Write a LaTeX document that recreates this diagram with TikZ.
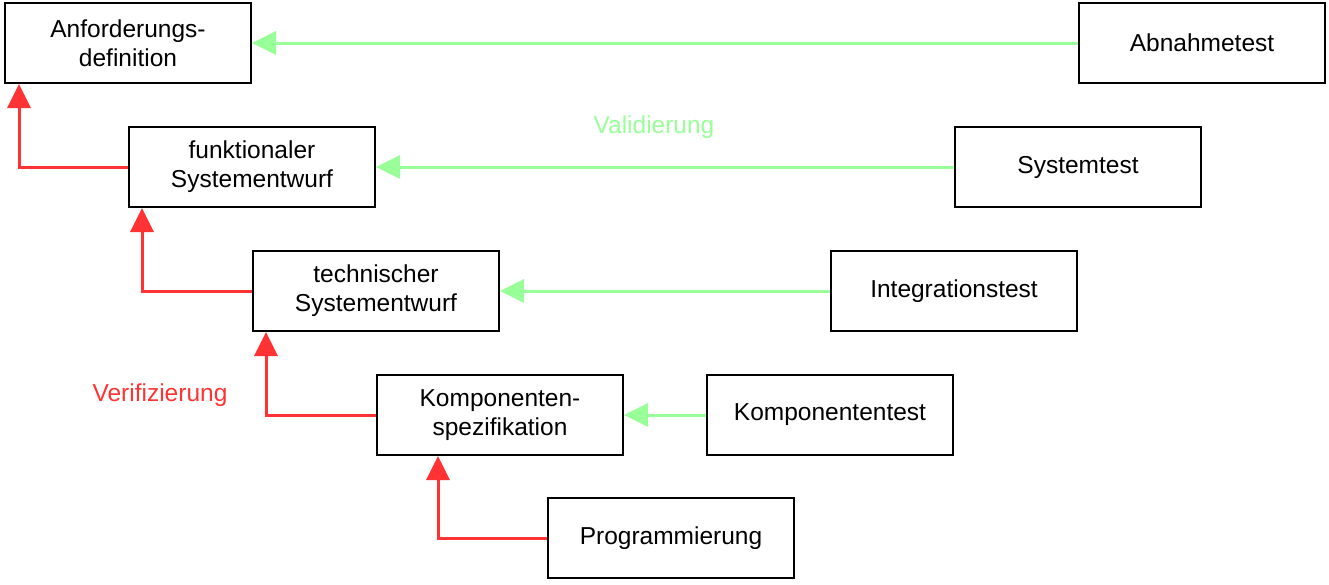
\documentclass[tikz,border=0pt]{standalone}
\usepackage{fontspec}
\setmainfont{Liberation Sans}
\usetikzlibrary{arrows.meta}
\definecolor{valgreen}{RGB}{153,255,153}
\definecolor{verred}{RGB}{255,51,51}
\begin{document}
\begin{tikzpicture}[x=1pt,y=-1pt,
  box/.style={draw=black,line width=2pt,fill=white,minimum width=246pt,minimum height=80pt,inner sep=0pt,align=center,font=\fontsize{24.5}{29}\selectfont},
  valarrow/.style={draw=valgreen,line width=3pt,-{Triangle[length=24pt,width=23pt]}},
  verarrow/.style={draw=verred,line width=3pt,-{Triangle[length=24pt,width=23pt]}},
  lbl/.style={font=\fontsize{24.5}{29}\selectfont}]
\useasboundingbox (0,0) rectangle (1329,584);
\node[box] (anf) at (128,43) {Anforderungs-\\definition};
\node[box] (fun) at (252,167) {funktionaler\\Systementwurf};
\node[box] (tec) at (376,291) {technischer\\Systementwurf};
\node[box] (kom) at (500,415) {Komponenten-\\spezifikation};
\node[box] (prg) at (671,538) {Programmierung};
\node[box] (abn) at (1202,43) {Abnahmetest};
\node[box] (sys) at (1078,167) {Systemtest};
\node[box] (int) at (954,291) {Integrationstest};
\node[box] (kot) at (830,415) {Komponententest};
\draw[valarrow] (abn.west) -- (anf.east);
\draw[valarrow] (sys.west) -- (fun.east);
\draw[valarrow] (int.west) -- (tec.east);
\draw[valarrow] (kot.west) -- (kom.east);
\draw[verarrow] (fun.west) -| ([xshift=15pt]anf.south west);
\draw[verarrow] (tec.west) -| ([xshift=14pt]fun.south west);
\draw[verarrow] (kom.west) -| ([xshift=14pt]tec.south west);
\draw[verarrow] (prg.west) -| ([xshift=62pt]kom.south west);
\node[lbl,text=valgreen] (val) at (654,127) {Validierung};
\node[lbl,text=verred] (ver) at (160,395) {Verifizierung};
\end{tikzpicture}
\end{document}
